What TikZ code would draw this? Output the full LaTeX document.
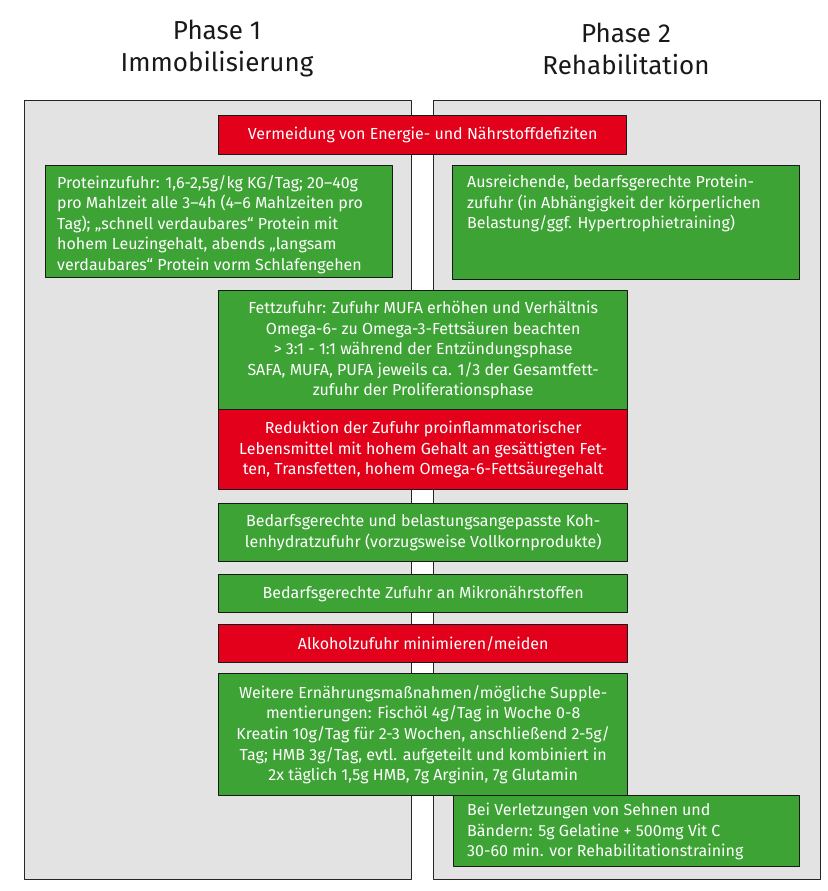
\documentclass[tikz,border=0pt]{standalone}
\usepackage{fontspec}
\setmainfont{Fira Sans}
\definecolor{boxgreen}{RGB}{61,163,53}
\definecolor{boxred}{RGB}{226,0,26}
\definecolor{panelgray}{RGB}{227,227,227}
\begin{document}
\begin{tikzpicture}[x=1pt,y=-1pt,line join=round,
	font=\fontsize{16}{20.6}\selectfont,
	panel/.style={draw=black!85,fill=panelgray,line width=1.2pt,inner sep=0pt,anchor=north west,minimum width=387pt,minimum height=779pt},
	gbox/.style={draw=black!90,fill=boxgreen,line width=1.4pt,text=white,inner sep=0pt,anchor=north west,align=center},
	rbox/.style={gbox,fill=boxred},
	boxtext/.style={text=white,inner sep=0pt,anchor=north west,align=left},
	title/.style={text=black!90,align=center,font=\fontsize{26}{32}\selectfont}]
	\useasboundingbox (0,0) rectangle (827,891);
	% phases
	\node[title] (ttl1) at (217,49) {Phase 1\\Immobilisierung};
	\node[title] (ttl2) at (626,49) {Phase 2\\Rehabilitation};
	\node[panel] (ph1) at (24,100) {};
	\node[panel] (ph2) at (433,100) {};
	% boxes
	\node[rbox,minimum width=408pt,minimum height=39pt] (energie) at (218,115) {Vermeidung von Energie- und Nährstoffdefiziten};
	\node[gbox,minimum width=347pt,minimum height=112pt] (protA) at (45,165) {};
	\node[boxtext] (protAt) at ([shift={(12,10)}]protA.north west) {Proteinzufuhr: 1,6-2,5g/kg KG/Tag; 20--40g\\pro Mahlzeit alle 3--4h (4--6 Mahlzeiten pro\\Tag); „schnell verdaubares“ Protein mit\\hohem Leuzingehalt, abends „langsam\\verdaubares“ Protein vorm Schlafengehen};
	\node[gbox,minimum width=347pt,minimum height=114pt] (protB) at (452,165) {};
	\node[boxtext] (protBt) at ([shift={(15,10)}]protB.north west) {Ausreichende, bedarfsgerechte Protein-\\zufuhr (in Abhängigkeit der körperlichen\\Belastung/ggf. Hypertrophietraining)};
	\node[gbox,minimum width=409pt,minimum height=119pt] (fett) at (218,290) {Fettzufuhr: Zufuhr MUFA erhöhen und Verhältnis\\Omega-6- zu Omega-3-Fettsäuren beachten\\> 3:1 - 1:1 während der Entzündungsphase\\SAFA, MUFA, PUFA jeweils ca. 1/3 der Gesamtfett-\\zufuhr der Proliferationsphase};
	\node[rbox,minimum width=409pt,minimum height=80pt] (reduktion) at (218,409) {Reduktion der Zufuhr proinflammatorischer\\Lebensmittel mit hohem Gehalt an gesättigten Fet-\\ten, Transfetten, hohem Omega-6-Fettsäuregehalt};
	\node[gbox,minimum width=409pt,minimum height=58pt] (kohlen) at (218,503) {Bedarfsgerechte und belastungsangepasste Koh-\\lenhydratzufuhr (vorzugsweise Vollkornprodukte)};
	\node[gbox,minimum width=409pt,minimum height=38pt] (mikro) at (218,574) {Bedarfsgerechte Zufuhr an Mikronährstoffen};
	\node[rbox,minimum width=409pt,minimum height=38pt] (alkohol) at (218,624) {Alkoholzufuhr minimieren/meiden};
	\node[gbox,minimum width=409pt,minimum height=122pt] (weitere) at (218,673) {Weitere Ernährungsmaßnahmen/mögliche Supple-\\mentierungen: Fischöl 4g/Tag in Woche 0-8\\Kreatin 10g/Tag für 2-3 Wochen, anschließend 2-5g/\\Tag; HMB 3g/Tag, evtl. aufgeteilt und kombiniert in\\2x täglich 1,5g HMB, 7g Arginin, 7g Glutamin};
	\node[gbox,minimum width=346pt,minimum height=71pt] (sehnen) at (453,795) {};
	\node[boxtext] (sehnent) at ([shift={(14,8)}]sehnen.north west) {Bei Verletzungen von Sehnen und\\Bändern: 5g Gelatine + 500mg Vit C\\30-60 min. vor Rehabilitationstraining};
\end{tikzpicture}
\end{document}
